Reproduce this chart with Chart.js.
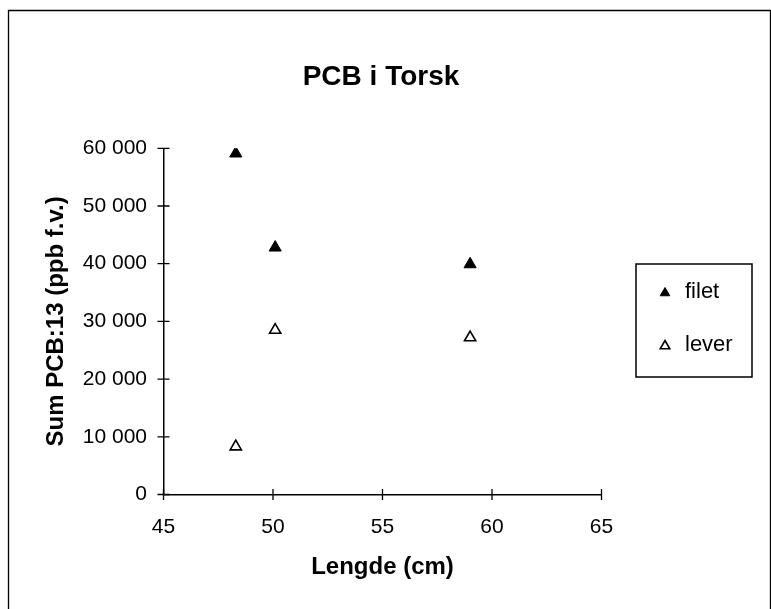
<!DOCTYPE html>
<html lang="no">
<head>
<meta charset="UTF-8">
<title>PCB i Torsk</title>
<script src="https://cdn.jsdelivr.net/npm/chart.js@4.4.0/dist/chart.umd.min.js"></script>
<style>
  html, body { margin: 0; padding: 0; background: #fff; }
</style>
</head>
<body>
<canvas id="chart" width="771" height="609"></canvas>
<script>
// data
var chartTitle = "PCB i Torsk";
var xTitle = "Lengde (cm)";
var yTitle = "Sum PCB:13 (ppb f.v.)";
var seriesNames = ["filet", "lever"];
var lengthCm = [48.3, 50.1, 59.0];
var pcbFilet = [59100, 42800, 39900];
var pcbLever = [8300, 28500, 27200];
var xTicks = [45, 50, 55, 60, 65];
var yTicks = [0, 10000, 20000, 30000, 40000, 50000, 60000];

var FONT = "'Liberation Sans', Arial, Helvetica, sans-serif";

function points(xs, ys) {
	var out = [];
	for (var i = 0; i < xs.length; i++) out.push({x: xs[i], y: ys[i]});
	return out;
}

function spaced(v) {
	// 60000 -> "60 000"
	return String(v).replace(/\B(?=(\d{3})+(?!\d))/g, " ");
}

// outer frame, title, cross ticks and the boxed legend
var decor = {
	id: "decor",
	afterDraw: function(chart) {
		var ctx = chart.ctx;
		var xs = chart.scales.x, ys = chart.scales.y;
		ctx.save();
		ctx.strokeStyle = "#000";
		ctx.lineWidth = 1.3;
		ctx.beginPath();
		ctx.moveTo(8.5, 609);
		ctx.lineTo(8.5, 10.5);
		ctx.lineTo(770.5, 10.5);
		ctx.lineTo(770.5, 609);
		ctx.stroke();

		// ticks crossing the axes
		ctx.beginPath();
		yTicks.forEach(function(v) {
			var py = ys.getPixelForValue(v);
			ctx.moveTo(xs.left - 6, py);
			ctx.lineTo(xs.left + 6, py);
		});
		xTicks.forEach(function(v) {
			var px = xs.getPixelForValue(v);
			ctx.moveTo(px, ys.bottom - 5.5);
			ctx.lineTo(px, ys.bottom + 5.5);
		});
		ctx.stroke();

		// title
		ctx.fillStyle = "#000";
		ctx.font = "bold 28px " + FONT;
		ctx.textAlign = "center";
		ctx.textBaseline = "middle";
		ctx.fillText(chartTitle, 381, 77);

		// legend
		ctx.lineWidth = 1.5;
		ctx.strokeRect(636, 264, 116, 113);
		ctx.font = "22px " + FONT;
		ctx.textAlign = "left";
		chart.data.datasets.forEach(function(ds, i) {
			var ly = 292 + i * 53;
			var r = 5.5;
			ctx.fillStyle = ds.pointBackgroundColor;
			ctx.strokeStyle = "#000";
			ctx.lineWidth = ds.pointBorderWidth;
			ctx.beginPath();
			ctx.moveTo(665, ly + 1 - r);
			ctx.lineTo(665 + r * 0.866, ly + 1 + r / 2);
			ctx.lineTo(665 - r * 0.866, ly + 1 + r / 2);
			ctx.closePath();
			ctx.fill();
			ctx.stroke();
			ctx.fillStyle = "#000";
			ctx.fillText(ds.label, 685, ly);
		});
		ctx.restore();
	}
};

new Chart(document.getElementById("chart"), {
	type: "scatter",
	data: {
		datasets: [
			{
				label: seriesNames[0],
				data: points(lengthCm, pcbFilet),
				pointStyle: "triangle",
				pointRadius: 7,
				pointHoverRadius: 7,
				pointBackgroundColor: "#000",
				pointBorderColor: "#000",
				pointBorderWidth: 1
			},
			{
				label: seriesNames[1],
				data: points(lengthCm, pcbLever),
				pointStyle: "triangle",
				pointRadius: 6.5,
				pointHoverRadius: 6.5,
				pointBackgroundColor: "#fff",
				pointBorderColor: "#000",
				pointBorderWidth: 1.6
			}
		]
	},
	options: {
		responsive: false,
		animation: false,
		devicePixelRatio: 1,
		layout: { padding: { left: 0, top: 148.3, right: 169.5, bottom: 0 } },
		plugins: {
			legend: { display: false },
			title: { display: false },
			tooltip: { enabled: false }
		},
		scales: {
			x: {
				type: "linear",
				min: 45,
				max: 65,
				afterBuildTicks: function(s) { s.ticks = xTicks.map(function(v) { return {value: v}; }); },
				afterFit: function(s) { s.height = 609 - 494.5; },
				grid: { display: false, drawTicks: false },
				border: { display: true, color: "#000", width: 1.5 },
				ticks: {
					color: "#000",
					padding: 20,
					maxRotation: 0,
					font: { family: FONT, size: 21 }
				},
				title: {
					display: true,
					text: xTitle,
					color: "#000",
					font: { family: FONT, size: 24, weight: "bold" },
					padding: { top: 0, bottom: 27 }
				}
			},
			y: {
				type: "linear",
				min: 0,
				max: 60000,
				afterBuildTicks: function(s) { s.ticks = yTicks.map(function(v) { return {value: v}; }); },
				afterFit: function(s) { s.width = 163.5; },
				grid: { display: false, drawTicks: false },
				border: { display: true, color: "#000", width: 1.5 },
				ticks: {
					color: "#000",
					padding: 16.5,
					font: { family: FONT, size: 21 },
					callback: function(v) { return spaced(v); }
				},
				title: {
					display: true,
					text: yTitle,
					color: "#000",
					font: { family: FONT, size: 24, weight: "bold" },
					padding: { top: 42, bottom: 0 }
				}
			}
		}
	},
	plugins: [decor]
});
</script>
</body>
</html>
